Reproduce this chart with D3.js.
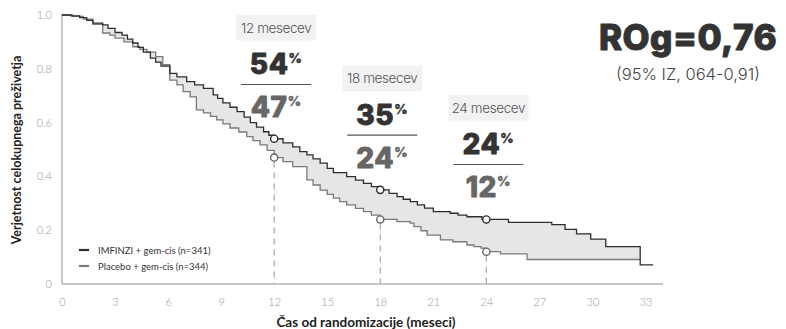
<!DOCTYPE html>
<html>
<head>
<meta charset="utf-8">
<script src="https://cdn.jsdelivr.net/npm/d3@7"></script>
<style>
  html, body { margin: 0; padding: 0; background: #fff; }
  svg { display: block; font-family: Lato, "Open Sans", sans-serif; }
</style>
</head>
<body>
<svg id="chart" width="786" height="329"></svg>
<script>
// Kaplan–Meier step estimates (months, survival probability)
const imfinziTime = [0, 0.5, 1.0, 1.4, 1.75, 2.3, 2.6, 3.0, 3.4, 3.7, 4.0, 4.3, 4.6, 5.0, 5.3, 5.6, 6.1, 6.5, 7.05, 7.5, 8.0, 8.55, 8.8, 9.1, 9.5, 9.9, 10.3, 10.65, 11.0, 11.4, 11.7, 12.0, 12.5, 13.05, 13.45, 13.85, 14.2, 14.6, 15.0, 15.35, 16.1, 16.6, 17.05, 17.5, 18.0, 18.5, 18.95, 19.3, 19.7, 20.1, 20.5, 21.0, 21.95, 22.4, 22.9, 23.75, 25.25, 27.7, 28.45, 29.1, 29.9, 30.75, 32.7];
const imfinziSurv = [1.0, 0.997, 0.99, 0.98, 0.97, 0.963, 0.95, 0.935, 0.925, 0.91, 0.896, 0.88, 0.862, 0.84, 0.825, 0.81, 0.783, 0.77, 0.752, 0.74, 0.727, 0.703, 0.69, 0.673, 0.657, 0.641, 0.62, 0.6, 0.583, 0.566, 0.553, 0.54, 0.525, 0.51, 0.492, 0.48, 0.465, 0.449, 0.43, 0.414, 0.399, 0.386, 0.374, 0.362, 0.35, 0.337, 0.325, 0.315, 0.306, 0.294, 0.282, 0.269, 0.263, 0.256, 0.25, 0.24, 0.229, 0.221, 0.203, 0.186, 0.167, 0.139, 0.071];
const imfinziEnd = 33.43;

const placeboTime = [0, 0.6, 1.2, 1.75, 2.3, 2.7, 3.0, 3.5, 4.0, 4.4, 4.8, 5.3, 5.7, 6.1, 6.5, 6.85, 7.25, 7.6, 8.0, 8.4, 8.75, 9.1, 9.5, 10.0, 10.45, 10.8, 11.2, 11.6, 12.0, 12.5, 13.05, 13.85, 14.2, 14.6, 15.0, 15.35, 15.7, 16.1, 16.6, 17.05, 17.5, 18.0, 18.95, 19.7, 19.9, 20.3, 20.65, 21.4, 22.1, 22.9, 23.3, 23.7, 24.0, 24.8, 26.3];
const placeboSurv = [1.0, 0.995, 0.985, 0.965, 0.933, 0.925, 0.914, 0.9, 0.882, 0.872, 0.862, 0.845, 0.815, 0.758, 0.74, 0.715, 0.696, 0.647, 0.636, 0.623, 0.61, 0.595, 0.58, 0.565, 0.548, 0.533, 0.517, 0.497, 0.47, 0.455, 0.436, 0.387, 0.368, 0.349, 0.333, 0.319, 0.306, 0.294, 0.281, 0.269, 0.256, 0.24, 0.232, 0.226, 0.213, 0.198, 0.182, 0.164, 0.157, 0.145, 0.139, 0.133, 0.12, 0.112, 0.091];
const placeboEnd = 32.68;

// Landmark time points with survival rates
const landmarkMonths = [12, 18, 24];
const landmarkLabels = ["12 mesecev", "18 mesecev", "24 mesecev"];
const landmarkImfinzi = [54, 35, 24];
const landmarkPlacebo = [47, 24, 12];

const xTicks = [0, 3, 6, 9, 12, 15, 18, 21, 24, 27, 30, 33];
const yTicks = [0, 0.2, 0.4, 0.6, 0.8, 1.0];
const yTickLabels = ["0", "0.2", "0.4", "0.6", "0.8", "1.0"];

const legendLabels = ["IMFINZI + gem-cis (n=341)", "Placebo + gem-cis (n=344)"];
const hrText = "ROg=0,76";
const ciText = "(95% IZ, 064-0,91)";
const xTitle = "Čas od randomizacije (meseci)";
const yTitle = "Verjetnost celokupnega preživetja";

const darkCol = "#2d2d2d", greyCol = "#7a7a7a";
const headFont = "Inter, 'Open Sans', sans-serif";

const svg = d3.select("#chart");
const x = d3.scaleLinear().domain([0, 33]).range([62, 645.5]);
const y = d3.scaleLinear().domain([0, 1]).range([284, 15]);

function toPoints(ts, ss, end) {
  const pts = ts.map((t, i) => [t, ss[i]]);
  pts.push([end, ss[ss.length - 1]]);
  return pts;
}
function stepValue(ts, ss, t) {
  let v = ss[0];
  for (let i = 0; i < ts.length; i++) if (ts[i] <= t) v = ss[i];
  return v;
}

// Shaded band between the two curves
const bandEnd = Math.min(imfinziEnd, placeboEnd);
const bandTimes = Array.from(new Set(imfinziTime.concat(placeboTime).filter(t => t <= bandEnd).concat([bandEnd]))).sort((a, b) => a - b);
const band = bandTimes.map(t => ({
  t, a: stepValue(imfinziTime, imfinziSurv, t), b: stepValue(placeboTime, placeboSurv, t)
}));
svg.append("path")
  .datum(band)
  .attr("fill", "#e6e6e6")
  .attr("d", d3.area().curve(d3.curveStepAfter)
    .x(d => x(d.t)).y0(d => y(d.a)).y1(d => y(d.b)));

// Axis lines
svg.append("line").attr("x1", 62).attr("x2", 62).attr("y1", y(1) - 1).attr("y2", y(0))
  .attr("stroke", "#b5b5b5").attr("stroke-width", 1.5);
svg.append("line").attr("x1", 62).attr("x2", 663).attr("y1", y(0)).attr("y2", y(0))
  .attr("stroke", "#b5b5b5").attr("stroke-width", 1.5);

// Tick labels
const xAxis = svg.append("g").attr("transform", `translate(0,${y(0)})`)
  .call(d3.axisBottom(x).tickValues(xTicks).tickSize(0).tickPadding(14).tickFormat(d3.format("d")));
const yAxis = svg.append("g").attr("transform", `translate(62,0)`)
  .call(d3.axisLeft(y).tickValues(yTicks).tickSize(0).tickPadding(10)
    .tickFormat((d, i) => yTickLabels[i]));
[xAxis, yAxis].forEach(g => {
  g.select(".domain").remove();
  g.selectAll("text").attr("fill", "#9a9a9a").attr("font-size", 11)
    .attr("font-weight", 300).attr("font-family", "Lato, sans-serif");
});

// Dashed landmark guides
svg.selectAll(".guide").data(landmarkMonths).enter().append("line")
  .attr("x1", d => x(d)).attr("x2", d => x(d))
  .attr("y1", (d, i) => y(landmarkPlacebo[i] / 100) + 4).attr("y2", y(0))
  .attr("stroke", "#a8a8a8").attr("stroke-width", 1.2).attr("stroke-dasharray", "6,5");

// Survival curves
const line = d3.line().curve(d3.curveStepAfter).x(d => x(d[0])).y(d => y(d[1]));
svg.append("path").datum(toPoints(placeboTime, placeboSurv, placeboEnd))
  .attr("fill", "none").attr("stroke", greyCol).attr("stroke-width", 1.3).attr("d", line);
svg.append("path").datum(toPoints(imfinziTime, imfinziSurv, imfinziEnd))
  .attr("fill", "none").attr("stroke", darkCol).attr("stroke-width", 1.3).attr("d", line);

// Landmark markers
landmarkMonths.forEach((m, i) => {
  svg.append("circle").attr("cx", x(m)).attr("cy", y(landmarkImfinzi[i] / 100)).attr("r", 3.6)
    .attr("fill", "#fff").attr("stroke", darkCol).attr("stroke-width", 1.4);
  svg.append("circle").attr("cx", x(m)).attr("cy", y(landmarkPlacebo[i] / 100)).attr("r", 3.6)
    .attr("fill", "#fff").attr("stroke", "#666").attr("stroke-width", 1.4);
});

// Landmark annotation blocks
const blockTops = [15, 65.7, 95];
landmarkMonths.forEach((m, i) => {
  const cx = x(m) + 2, top = blockTops[i];
  const g = svg.append("g");
  g.append("rect").attr("x", cx - 40).attr("y", top).attr("width", 80).attr("height", 25.5)
    .attr("fill", "#f2f2f2");
  g.append("text").attr("x", cx).attr("y", top + 17.5).attr("text-anchor", "middle")
    .attr("font-family", headFont).attr("font-size", 13.5).attr("font-weight", 300).attr("fill", "#555")
    .attr("letter-spacing", -0.4).text(landmarkLabels[i]);
  const big = (val, base, col) => {
    const t = g.append("text").attr("x", cx).attr("y", base).attr("text-anchor", "middle")
      .attr("font-family", headFont).attr("fill", col).attr("font-weight", 800)
      .attr("stroke", col).attr("stroke-width", 0.9).attr("stroke-linejoin", "round")
      .attr("letter-spacing", 0.6);
    t.append("tspan").attr("font-size", 28).text(val);
    t.append("tspan").attr("font-size", 13).attr("stroke-width", 0.4)
      .attr("dy", -11).attr("dx", 0).text("%");
  };
  big(landmarkImfinzi[i], top + 59, "#333");
  g.append("line").attr("x1", cx - 35).attr("x2", cx + 35).attr("y1", top + 69.5).attr("y2", top + 69.5)
    .attr("stroke", "#555").attr("stroke-width", 1.2);
  big(landmarkPlacebo[i], top + 102, "#666");
});

// Hazard ratio
svg.append("text").attr("x", 688).attr("y", 50).attr("text-anchor", "middle")
  .attr("font-family", headFont).attr("font-size", 35).attr("font-weight", 800)
  .attr("stroke", "#333").attr("stroke-width", 1).attr("stroke-linejoin", "round")
  .attr("letter-spacing", 0.5).attr("fill", "#333").text(hrText);
svg.append("text").attr("x", 688).attr("y", 80).attr("text-anchor", "middle")
  .attr("font-family", headFont).attr("font-size", 16.5).attr("font-weight", 300)
  .attr("fill", "#444").text(ciText);

// Legend
legendLabels.forEach((lab, i) => {
  const ly = 250 + i * 16;
  svg.append("line").attr("x1", 79).attr("x2", 89).attr("y1", ly).attr("y2", ly)
    .attr("stroke", i === 0 ? darkCol : greyCol).attr("stroke-width", 2.2);
  svg.append("text").attr("x", 98).attr("y", ly + 3.5).attr("font-size", 9.5)
    .attr("fill", "#333").text(lab);
});

// Axis titles
svg.append("text").attr("x", 366).attr("y", 327).attr("text-anchor", "middle")
  .attr("font-size", 13.5).attr("font-weight", 700).attr("fill", "#222").text(xTitle);
svg.append("text").attr("transform", "translate(21,150) rotate(-90)").attr("text-anchor", "middle")
  .attr("font-size", 12.5).attr("font-weight", 700).attr("fill", "#222").text(yTitle);
</script>
</body>
</html>
